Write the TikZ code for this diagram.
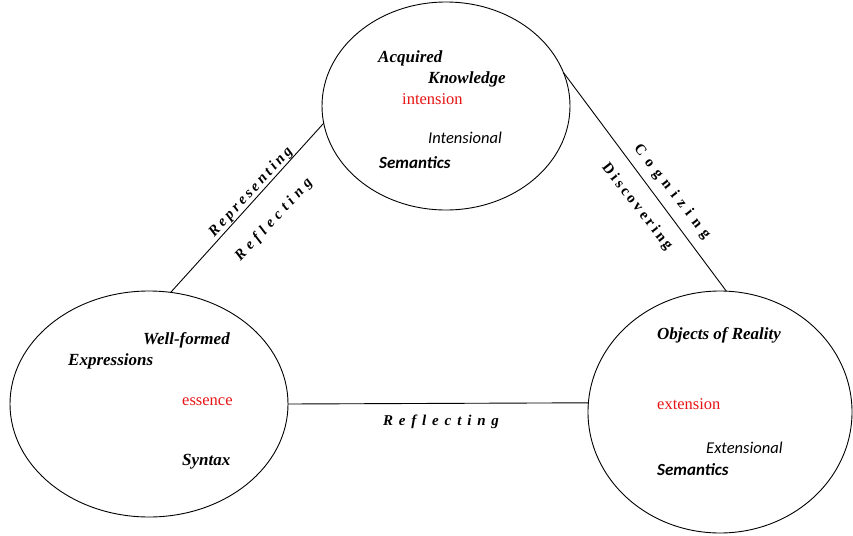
\documentclass[tikz,border=0pt]{standalone}
\usepackage{fontspec}
\setmainfont{Liberation Serif}
\newfontfamily\calfont{Carlito}
\newfontfamily\spacedA[LetterSpace=21]{Liberation Serif}
\newfontfamily\spacedB[LetterSpace=32]{Liberation Serif}
\newfontfamily\spacedC[LetterSpace=42]{Liberation Serif}
\newfontfamily\spacedD[LetterSpace=20]{Liberation Serif}
\newfontfamily\spacedE[LetterSpace=39]{Liberation Serif}
\usetikzlibrary{shapes.geometric}
\definecolor{redtxt}{RGB}{230,20,20}
\tikzset{
  oval/.style={ellipse,draw,line width=0.9pt,inner sep=0pt,outer sep=0pt},
  conn/.style={line width=0.9pt},
  bi/.style={font=\fontsize{17}{19}\selectfont\bfseries\itshape,inner sep=0pt,anchor=west},
  rd/.style={font=\fontsize{16.5}{18}\selectfont,text=redtxt,inner sep=0pt,anchor=west},
  ci/.style={font=\fontsize{16.5}{18}\selectfont\calfont\itshape,inner sep=0pt,anchor=west},
  cb/.style={font=\fontsize{17}{19}\selectfont\calfont\bfseries\itshape,inner sep=0pt,anchor=west},
  lab/.style={inner sep=0pt},
}
\begin{document}
\begin{tikzpicture}[x=1pt,y=-1pt]
\useasboundingbox (0,0) rectangle (853,535);
\node[oval,minimum width=248pt,minimum height=208pt] (top) at (446,106) {};
\node[oval,minimum width=278pt,minimum height=226pt] (left) at (149,404) {};
\node[oval,minimum width=264pt,minimum height=242pt] (right) at (720,412) {};

\draw[conn] (left.79.4) -- (top.188.8);
\draw[conn] (top.16) -- (right.87.6);
\draw[conn] (left.east) -- (right.176);

% top
\node[bi] (acq) at (378,58) {Acquired};
\node[bi] (kno) at (428,79) {Knowledge};
\node[rd] (int) at (402,99) {intension};
\node[ci] (intl) at (428,138) {Intensional};
\node[cb] (sem1) at (379,163) {Semantics};
% left
\node[bi] (wf) at (143,340) {Well-formed};
\node[bi] (exp) at (68,361) {Expressions};
\node[rd] (ess) at (182,402) {essence};
\node[bi] (syn) at (182,462) {Syntax};
% right
\node[bi] (obj) at (657,335) {Objects of Reality};
\node[rd] (ext) at (657,404) {extension};
\node[ci] (extl) at (706,448) {Extensional};
\node[cb] (sem2) at (657,470) {Semantics};

% connector labels
\node[lab,rotate=47.5,font=\fontsize{15}{17}\selectfont\spacedA\bfseries\itshape] (rep) at (251,192) {Representing};
\node[lab,rotate=47.5,font=\fontsize{15}{17}\selectfont\spacedB\bfseries\itshape] (refl1) at (274,220) {Reflecting};
\node[lab,rotate=-52,font=\fontsize{15}{17}\selectfont\spacedC\bfseries] (cog) at (672,192) {Cognizing};
\node[lab,rotate=-52,font=\fontsize{15}{17}\selectfont\spacedD\bfseries] (dis) at (637,207) {Discovering};
\node[lab,font=\fontsize{15}{17}\selectfont\spacedE\bfseries\itshape] (refl2) at (441,422) {Reflecting};
\end{tikzpicture}
\end{document}
